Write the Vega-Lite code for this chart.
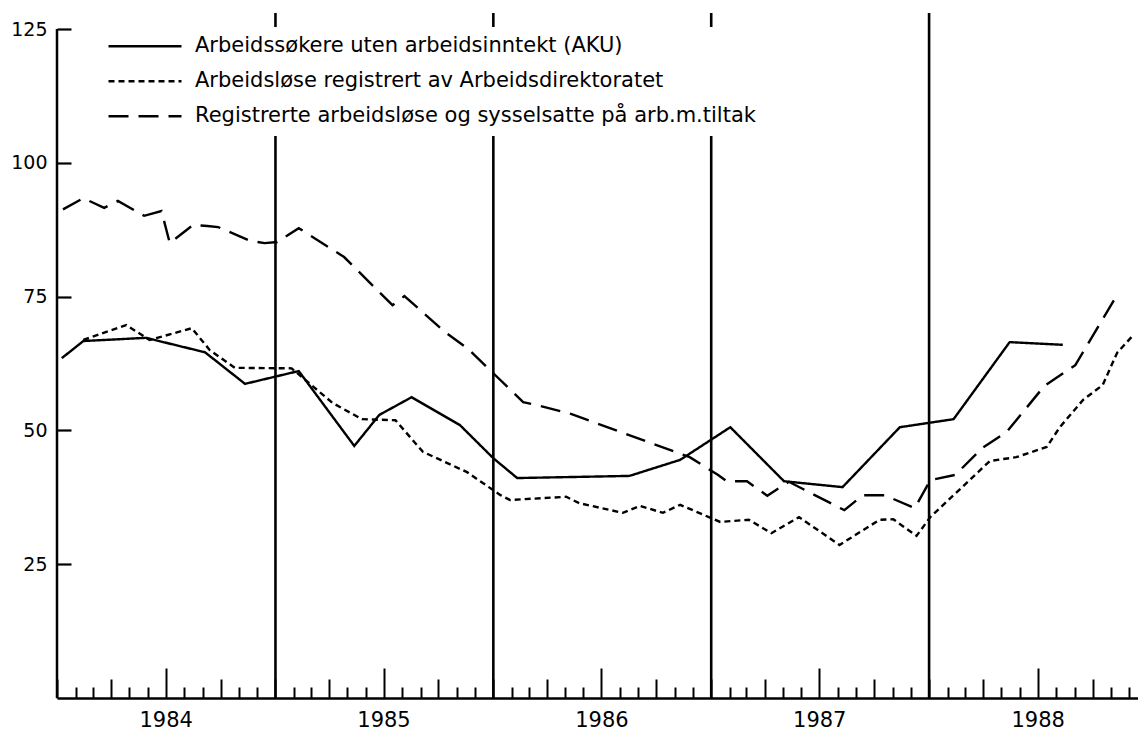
{
  "$schema": "https://vega.github.io/schema/vega-lite/v6.json",
  "width": 1081,
  "height": 685,
  "autosize": "none",
  "padding": {"left": 57, "top": 13, "right": 0, "bottom": 33},
  "background": "white",
  "config": {"view": {"stroke": null}, "font": "DejaVu Sans"},
  "datasets": {
    "years": [{"date": "1985-01-01"}, {"date": "1986-01-01"}, {"date": "1987-01-01"}, {"date": "1988-01-01"}],
    "series": [
      {"series": "Arbeidssøkere uten arbeidsinntekt (AKU)", "date": "1984-01-09", "value": 63.5},
      {"series": "Arbeidssøkere uten arbeidsinntekt (AKU)", "date": "1984-02-14", "value": 66.7},
      {"series": "Arbeidssøkere uten arbeidsinntekt (AKU)", "date": "1984-05-29", "value": 67.3},
      {"series": "Arbeidssøkere uten arbeidsinntekt (AKU)", "date": "1984-09-05", "value": 64.6},
      {"series": "Arbeidssøkere uten arbeidsinntekt (AKU)", "date": "1984-11-11", "value": 58.7},
      {"series": "Arbeidssøkere uten arbeidsinntekt (AKU)", "date": "1985-02-09", "value": 61.1},
      {"series": "Arbeidssøkere uten arbeidsinntekt (AKU)", "date": "1985-05-13", "value": 47.1},
      {"series": "Arbeidssøkere uten arbeidsinntekt (AKU)", "date": "1985-06-24", "value": 52.9},
      {"series": "Arbeidssøkere uten arbeidsinntekt (AKU)", "date": "1985-08-17", "value": 56.2},
      {"series": "Arbeidssøkere uten arbeidsinntekt (AKU)", "date": "1985-11-06", "value": 51.0},
      {"series": "Arbeidssøkere uten arbeidsinntekt (AKU)", "date": "1986-01-01", "value": 44.8},
      {"series": "Arbeidssøkere uten arbeidsinntekt (AKU)", "date": "1986-02-10", "value": 41.1},
      {"series": "Arbeidssøkere uten arbeidsinntekt (AKU)", "date": "1986-08-17", "value": 41.5},
      {"series": "Arbeidssøkere uten arbeidsinntekt (AKU)", "date": "1986-11-10", "value": 44.5},
      {"series": "Arbeidssøkere uten arbeidsinntekt (AKU)", "date": "1987-02-02", "value": 50.6},
      {"series": "Arbeidssøkere uten arbeidsinntekt (AKU)", "date": "1987-05-03", "value": 40.5},
      {"series": "Arbeidssøkere uten arbeidsinntekt (AKU)", "date": "1987-08-09", "value": 39.4},
      {"series": "Arbeidssøkere uten arbeidsinntekt (AKU)", "date": "1987-11-13", "value": 50.6},
      {"series": "Arbeidssøkere uten arbeidsinntekt (AKU)", "date": "1988-02-11", "value": 52.1},
      {"series": "Arbeidssøkere uten arbeidsinntekt (AKU)", "date": "1988-05-15", "value": 66.5},
      {"series": "Arbeidssøkere uten arbeidsinntekt (AKU)", "date": "1988-08-12", "value": 66.0},

      {"series": "Arbeidsløse registrert av Arbeidsdirektoratet", "date": "1984-02-14", "value": 66.9},
      {"series": "Arbeidsløse registrert av Arbeidsdirektoratet", "date": "1984-04-26", "value": 69.7},
      {"series": "Arbeidsløse registrert av Arbeidsdirektoratet", "date": "1984-06-04", "value": 66.9},
      {"series": "Arbeidsløse registrert av Arbeidsdirektoratet", "date": "1984-08-14", "value": 69.1},
      {"series": "Arbeidsløse registrert av Arbeidsdirektoratet", "date": "1984-09-13", "value": 65.0},
      {"series": "Arbeidsløse registrert av Arbeidsdirektoratet", "date": "1984-10-25", "value": 61.7},
      {"series": "Arbeidsløse registrert av Arbeidsdirektoratet", "date": "1985-01-28", "value": 61.6},
      {"series": "Arbeidsløse registrert av Arbeidsdirektoratet", "date": "1985-04-07", "value": 55.1},
      {"series": "Arbeidsløse registrert av Arbeidsdirektoratet", "date": "1985-05-26", "value": 52.1},
      {"series": "Arbeidsløse registrert av Arbeidsdirektoratet", "date": "1985-07-21", "value": 51.9},
      {"series": "Arbeidsløse registrert av Arbeidsdirektoratet", "date": "1985-09-05", "value": 46.0},
      {"series": "Arbeidsløse registrert av Arbeidsdirektoratet", "date": "1985-11-18", "value": 42.2},
      {"series": "Arbeidsløse registrert av Arbeidsdirektoratet", "date": "1986-01-13", "value": 37.9},
      {"series": "Arbeidsløse registrert av Arbeidsdirektoratet", "date": "1986-01-29", "value": 37.0},
      {"series": "Arbeidsløse registrert av Arbeidsdirektoratet", "date": "1986-05-03", "value": 37.6},
      {"series": "Arbeidsløse registrert av Arbeidsdirektoratet", "date": "1986-05-25", "value": 36.4},
      {"series": "Arbeidsløse registrert av Arbeidsdirektoratet", "date": "1986-08-06", "value": 34.6},
      {"series": "Arbeidsløse registrert av Arbeidsdirektoratet", "date": "1986-09-04", "value": 35.9},
      {"series": "Arbeidsløse registrert av Arbeidsdirektoratet", "date": "1986-10-12", "value": 34.6},
      {"series": "Arbeidsløse registrert av Arbeidsdirektoratet", "date": "1986-11-10", "value": 36.1},
      {"series": "Arbeidsløse registrert av Arbeidsdirektoratet", "date": "1987-01-16", "value": 32.9},
      {"series": "Arbeidsløse registrert av Arbeidsdirektoratet", "date": "1987-03-05", "value": 33.3},
      {"series": "Arbeidsløse registrert av Arbeidsdirektoratet", "date": "1987-04-12", "value": 30.8},
      {"series": "Arbeidsløse registrert av Arbeidsdirektoratet", "date": "1987-05-28", "value": 33.8},
      {"series": "Arbeidsløse registrert av Arbeidsdirektoratet", "date": "1987-08-04", "value": 28.6},
      {"series": "Arbeidsløse registrert av Arbeidsdirektoratet", "date": "1987-10-10", "value": 33.3},
      {"series": "Arbeidsløse registrert av Arbeidsdirektoratet", "date": "1987-11-02", "value": 33.4},
      {"series": "Arbeidsløse registrert av Arbeidsdirektoratet", "date": "1987-12-11", "value": 30.3},
      {"series": "Arbeidsløse registrert av Arbeidsdirektoratet", "date": "1988-01-03", "value": 33.8},
      {"series": "Arbeidsløse registrert av Arbeidsdirektoratet", "date": "1988-04-12", "value": 44.3},
      {"series": "Arbeidsløse registrert av Arbeidsdirektoratet", "date": "1988-05-26", "value": 45.0},
      {"series": "Arbeidsløse registrert av Arbeidsdirektoratet", "date": "1988-07-16", "value": 46.9},
      {"series": "Arbeidsløse registrert av Arbeidsdirektoratet", "date": "1988-08-07", "value": 50.6},
      {"series": "Arbeidsløse registrert av Arbeidsdirektoratet", "date": "1988-09-15", "value": 55.7},
      {"series": "Arbeidsløse registrert av Arbeidsdirektoratet", "date": "1988-10-18", "value": 58.5},
      {"series": "Arbeidsløse registrert av Arbeidsdirektoratet", "date": "1988-11-11", "value": 64.5},
      {"series": "Arbeidsløse registrert av Arbeidsdirektoratet", "date": "1988-12-08", "value": 67.8},

      {"series": "Registrerte arbeidsløse og sysselsatte på arb.m.tiltak", "date": "1984-01-11", "value": 91.3},
      {"series": "Registrerte arbeidsløse og sysselsatte på arb.m.tiltak", "date": "1984-02-14", "value": 93.4},
      {"series": "Registrerte arbeidsløse og sysselsatte på arb.m.tiltak", "date": "1984-03-20", "value": 91.6},
      {"series": "Registrerte arbeidsløse og sysselsatte på arb.m.tiltak", "date": "1984-04-12", "value": 92.9},
      {"series": "Registrerte arbeidsløse og sysselsatte på arb.m.tiltak", "date": "1984-05-26", "value": 90.1},
      {"series": "Registrerte arbeidsløse og sysselsatte på arb.m.tiltak", "date": "1984-06-24", "value": 91.0},
      {"series": "Registrerte arbeidsløse og sysselsatte på arb.m.tiltak", "date": "1984-07-08", "value": 85.0},
      {"series": "Registrerte arbeidsløse og sysselsatte på arb.m.tiltak", "date": "1984-08-16", "value": 88.4},
      {"series": "Registrerte arbeidsløse og sysselsatte på arb.m.tiltak", "date": "1984-09-09", "value": 88.2},
      {"series": "Registrerte arbeidsløse og sysselsatte på arb.m.tiltak", "date": "1984-09-27", "value": 88.0},
      {"series": "Registrerte arbeidsløse og sysselsatte på arb.m.tiltak", "date": "1984-11-20", "value": 85.4},
      {"series": "Registrerte arbeidsløse og sysselsatte på arb.m.tiltak", "date": "1984-12-14", "value": 85.0},
      {"series": "Registrerte arbeidsløse og sysselsatte på arb.m.tiltak", "date": "1985-01-04", "value": 85.2},
      {"series": "Registrerte arbeidsløse og sysselsatte på arb.m.tiltak", "date": "1985-02-09", "value": 87.8},
      {"series": "Registrerte arbeidsløse og sysselsatte på arb.m.tiltak", "date": "1985-04-26", "value": 82.4},
      {"series": "Registrerte arbeidsløse og sysselsatte på arb.m.tiltak", "date": "1985-07-16", "value": 73.4},
      {"series": "Registrerte arbeidsløse og sysselsatte på arb.m.tiltak", "date": "1985-08-05", "value": 75.1},
      {"series": "Registrerte arbeidsløse og sysselsatte på arb.m.tiltak", "date": "1985-10-12", "value": 68.4},
      {"series": "Registrerte arbeidsløse og sysselsatte på arb.m.tiltak", "date": "1985-11-20", "value": 65.2},
      {"series": "Registrerte arbeidsløse og sysselsatte på arb.m.tiltak", "date": "1986-02-20", "value": 55.3},
      {"series": "Registrerte arbeidsløse og sysselsatte på arb.m.tiltak", "date": "1986-03-19", "value": 54.6},
      {"series": "Registrerte arbeidsløse og sysselsatte på arb.m.tiltak", "date": "1986-05-11", "value": 53.1},
      {"series": "Registrerte arbeidsløse og sysselsatte på arb.m.tiltak", "date": "1986-11-26", "value": 45.0},
      {"series": "Registrerte arbeidsløse og sysselsatte på arb.m.tiltak", "date": "1987-01-12", "value": 41.7},
      {"series": "Registrerte arbeidsløse og sysselsatte på arb.m.tiltak", "date": "1987-01-27", "value": 40.5},
      {"series": "Registrerte arbeidsløse og sysselsatte på arb.m.tiltak", "date": "1987-03-02", "value": 40.5},
      {"series": "Registrerte arbeidsløse og sysselsatte på arb.m.tiltak", "date": "1987-04-05", "value": 37.8},
      {"series": "Registrerte arbeidsløse og sysselsatte på arb.m.tiltak", "date": "1987-05-11", "value": 40.4},
      {"series": "Registrerte arbeidsløse og sysselsatte på arb.m.tiltak", "date": "1987-08-12", "value": 35.1},
      {"series": "Registrerte arbeidsløse og sysselsatte på arb.m.tiltak", "date": "1987-09-12", "value": 37.9},
      {"series": "Registrerte arbeidsløse og sysselsatte på arb.m.tiltak", "date": "1987-10-18", "value": 37.9},
      {"series": "Registrerte arbeidsløse og sysselsatte på arb.m.tiltak", "date": "1987-12-08", "value": 35.5},
      {"series": "Registrerte arbeidsløse og sysselsatte på arb.m.tiltak", "date": "1988-01-03", "value": 40.7},
      {"series": "Registrerte arbeidsløse og sysselsatte på arb.m.tiltak", "date": "1988-02-14", "value": 41.7},
      {"series": "Registrerte arbeidsløse og sysselsatte på arb.m.tiltak", "date": "1988-03-30", "value": 46.7},
      {"series": "Registrerte arbeidsløse og sysselsatte på arb.m.tiltak", "date": "1988-05-10", "value": 49.7},
      {"series": "Registrerte arbeidsløse og sysselsatte på arb.m.tiltak", "date": "1988-07-12", "value": 58.3},
      {"series": "Registrerte arbeidsløse og sysselsatte på arb.m.tiltak", "date": "1988-09-02", "value": 62.2},
      {"series": "Registrerte arbeidsløse og sysselsatte på arb.m.tiltak", "date": "1988-11-13", "value": 75.7}
    ]
  },
  "layer": [
    {
      "data": {"name": "series"},
      "mark": {"type": "line", "color": "black", "strokeWidth": 2.4},
      "encoding": {
        "x": {
          "field": "date",
          "type": "temporal",
          "scale": {"domain": [{"year": 1984, "month": 1, "date": 1}, {"year": 1988, "month": 12, "date": 16}]},
          "axis": {
            "title": null,
            "grid": false,
            "domainColor": "black",
            "domainWidth": 2.5,
            "tickColor": "black",
            "tickWidth": 2,
            "tickCount": {"interval": "month", "step": 1},
            "tickSize": {
              "condition": [
                {"test": "month(datum.value)==6", "value": -30},
                {"test": "month(datum.value)%3==0", "value": -19}
              ],
              "value": -11
            },
            "labelExpr": "month(datum.value)==6 ? timeFormat(datum.value, '%Y') : ''",
            "labelFont": "DejaVu Sans",
            "labelFontSize": 21,
            "labelColor": "black",
            "labelPadding": 41,
            "labelOverlap": false,
            "labelFlush": false,
            "labelBound": false
          }
        },
        "y": {
          "field": "value",
          "type": "quantitative",
          "scale": {"domain": [0, 128], "nice": false},
          "axis": {
            "title": null,
            "grid": false,
            "domain": false,
            "values": [25, 50, 75, 100, 125],
            "tickColor": "black",
            "tickWidth": 2.2,
            "tickSize": -14,
            "labelFont": "DejaVu Sans",
            "labelFontSize": 19,
            "labelColor": "black",
            "labelPadding": 24
          }
        },
        "strokeDash": {
          "field": "series",
          "type": "nominal",
          "scale": {
            "domain": [
              "Arbeidssøkere uten arbeidsinntekt (AKU)",
              "Arbeidsløse registrert av Arbeidsdirektoratet",
              "Registrerte arbeidsløse og sysselsatte på arb.m.tiltak"
            ],
            "range": [[1, 0], [6, 4], [20, 10]]
          },
          "legend": {
            "title": null,
            "orient": "none",
            "legendX": 48,
            "legendY": 14,
            "padding": 2,
            "fillColor": "white",
            "symbolType": "stroke",
            "symbolSize": 5329,
            "symbolStrokeWidth": 2.4,
            "symbolStrokeColor": "black",
            "clipHeight": 34.5,
            "rowPadding": 0,
            "labelFont": "DejaVu Sans",
            "labelFontSize": 21,
            "labelColor": "black",
            "labelLimit": 1000,
            "labelOffset": 12
          }
        }
      }
    },
    {
      "data": {"name": "years"},
      "mark": {"type": "rule", "color": "black", "strokeWidth": 2.6},
      "encoding": {
        "x": {"field": "date", "type": "temporal"},
        "y": {"datum": 0, "type": "quantitative"},
        "y2": {"datum": 128}
      }
    },
    {
      "data": {"values": [{}]},
      "mark": {"type": "rule", "color": "black", "strokeWidth": 2.5},
      "encoding": {
        "x": {"datum": {"year": 1984, "month": 1, "date": 1}, "type": "temporal"},
        "y": {"datum": 0, "type": "quantitative"},
        "y2": {"datum": 125}
      }
    }
  ]
}
